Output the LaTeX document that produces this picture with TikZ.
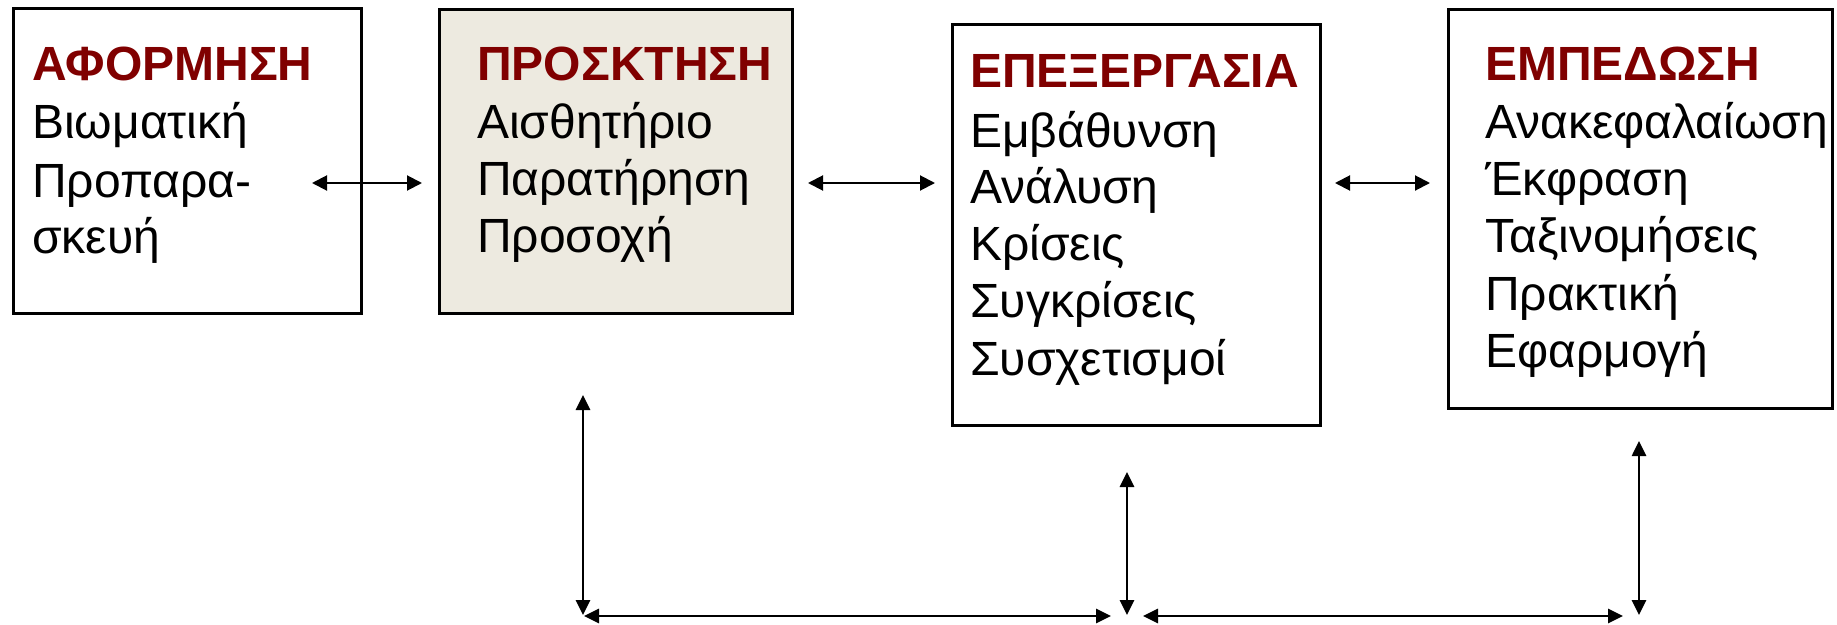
\documentclass[tikz,border=0pt]{standalone}
\usepackage{fontspec}
\setmainfont{Liberation Sans}
\usetikzlibrary{arrows.meta}
\definecolor{titlered}{RGB}{128,0,0}
\definecolor{boxfill}{RGB}{237,234,224}
\begin{document}
\begin{tikzpicture}[x=1pt,y=-1pt,
  box/.style={draw=black, line width=2.5pt, inner sep=0, anchor=north west},
  ttl/.style={anchor=base west, inner sep=0, font=\fontsize{48}{54}\selectfont\bfseries, text=titlered},
  body/.style={anchor=base west, inner sep=0, font=\fontsize{48}{54}\selectfont},
  harrow/.style={line width=2pt, {Triangle[length=15pt,width=15pt]}-{Triangle[length=15pt,width=15pt]}},
  barrow/.style={line width=2.7pt, {Triangle[length=15pt,width=14pt]}-{Triangle[length=15pt,width=14pt]}}]
\useasboundingbox (0,0) rectangle (1837,624);
\fill[white] (0,0) rectangle (1837,624);
% boxes
\node[box, minimum width=348pt, minimum height=305pt] (b1) at (12,7) {};
\node[box, fill=boxfill, minimum width=353pt, minimum height=304pt] (b2) at (438,8) {};
\node[box, minimum width=368pt, minimum height=401pt] (b3) at (951,23) {};
\node[box, minimum width=384pt, minimum height=399pt] (b4) at (1447,8) {};
% box 1
\node[ttl] (t1) at (32,80) {ΑΦΟΡΜΗΣΗ};
\node[body] (a1) at (32,138) {Βιωματική};
\node[body] (a2) at (32,197) {Προπαρα-};
\node[body] (a3) at (32,253) {σκευή};
% box 2
\node[ttl] (t2) at (477,80) {ΠΡΟΣΚΤΗΣΗ};
\node[body] (p1) at (477,138) {Αισθητήριο};
\node[body] (p2) at (477,195) {Παρατήρηση};
\node[body] (p3) at (477,252) {Προσοχή};
% box 3
\node[ttl] (t3) at (970,87) {ΕΠΕΞΕΡΓΑΣΙΑ};
\node[body] (e1) at (970,147) {Εμβάθυνση};
\node[body] (e2) at (970,203) {Ανάλυση};
\node[body] (e3) at (970,260) {Κρίσεις};
\node[body] (e4) at (970,317) {Συγκρίσεις};
\node[body] (e5) at (970,375) {Συσχετισμοί};
% box 4
\node[ttl] (t4) at (1485,80) {ΕΜΠΕΔΩΣΗ};
\node[body] (m1) at (1485,138) {Ανακεφαλαίωση};
\node[body] (m2) at (1485,195) {Έκφραση};
\node[body] (m3) at (1485,252) {Ταξινομήσεις};
\node[body] (m4) at (1485,310) {Πρακτική};
\node[body] (m5) at (1485,367) {Εφαρμογή};
% arrow end points
\coordinate (h1a) at (312,183); \coordinate (h1b) at (422,183);
\coordinate (h2a) at (808,183); \coordinate (h2b) at (935,183);
\coordinate (h3a) at (1335,183); \coordinate (h3b) at (1430,183);
\coordinate (v1a) at (583,395); \coordinate (v1b) at (583,615);
\coordinate (g1a) at (584,616); \coordinate (g1b) at (1111,616);
\coordinate (v2a) at (1127,472); \coordinate (v2b) at (1127,615);
\coordinate (g2a) at (1143,616); \coordinate (g2b) at (1623,616);
\coordinate (v3a) at (1639,441); \coordinate (v3b) at (1639,615);
% arrows
\draw[harrow] (h1a) -- (h1b);
\draw[harrow] (h2a) -- (h2b);
\draw[harrow] (h3a) -- (h3b);
\draw[barrow] (v1a) -- (v1b);
\draw[barrow] (g1a) -- (g1b);
\draw[barrow] (v2a) -- (v2b);
\draw[barrow] (g2a) -- (g2b);
\draw[barrow] (v3a) -- (v3b);
\end{tikzpicture}
\end{document}
